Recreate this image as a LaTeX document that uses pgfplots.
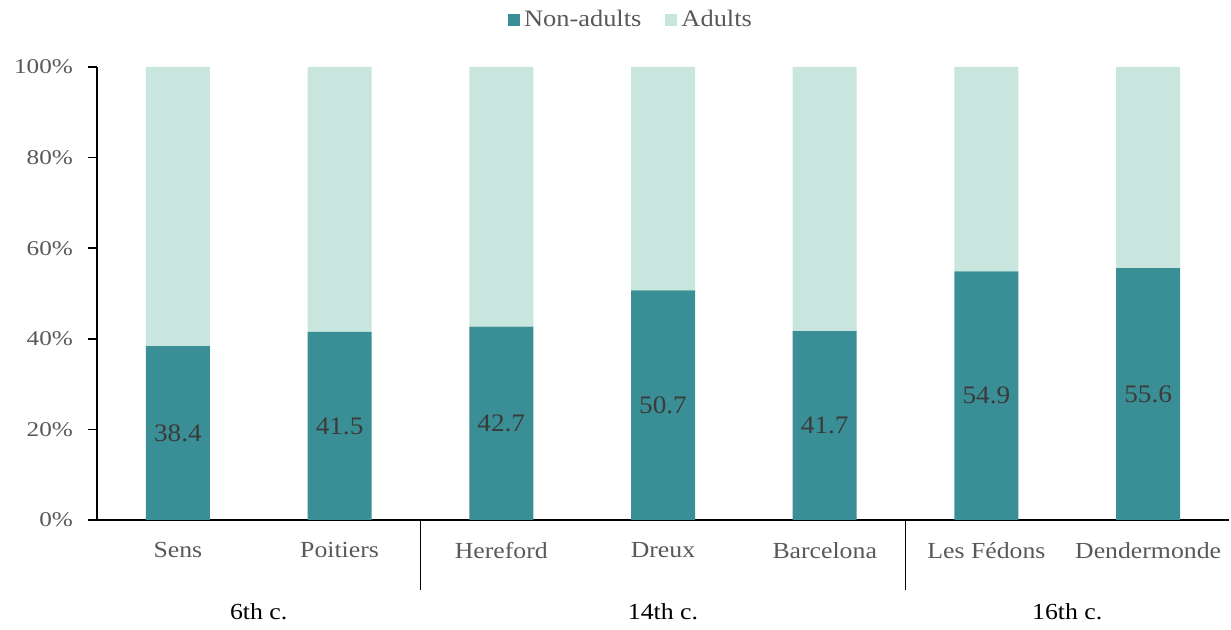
\documentclass[border=0pt]{standalone}
\usepackage{fontspec}
\setmainfont{Liberation Serif}[FakeStretch=1.12]
\newfontfamily\tickfont{Liberation Serif}[FakeStretch=1.2]
\newfontfamily\barfont{Liberation Serif}[FakeStretch=1.08]
\usepackage{pgfplots}
\pgfplotsset{compat=1.18}
\definecolor{dteal}{HTML}{3A8F96}
\definecolor{lteal}{HTML}{C8E6DE}
\definecolor{tgrey}{HTML}{595959}
\definecolor{bgrey}{HTML}{3A3A3A}
\begin{document}
\begin{tikzpicture}
\path[use as bounding box] (-48.5pt,-55pt) rectangle (567pt,260pt);
\begin{axis}[
  scale only axis,
  width=566pt, height=226.5pt,
  ybar stacked,
  bar width=32pt,
  xmin=-0.5, xmax=6.5,
  ymin=0, ymax=100,
  axis x line=bottom, axis y line=left,
  axis line style={black, line width=0.8pt, -},
  xtick={0,1,2,3,4,5,6},
  xticklabels={Sens,Poitiers,Hereford,Dreux,Barcelona,Les Fédons,Dendermonde},
  x tick style={draw=none},
  xticklabel style={font=\fontsize{11.5pt}{13pt}\selectfont, text=tgrey, yshift=-3pt},
  ytick={0,20,40,60,80,100},
  yticklabels={0\%,20\%,40\%,60\%,80\%,100\%},
  y tick style={black, line width=0.8pt},
  tick align=outside,
  major tick length=4.5pt,
  yticklabel style={font=\fontsize{10.5pt}{12pt}\tickfont, text=tgrey, xshift=-4pt},
  legend columns=2,
  legend style={at={(axis description cs:0.4726,1.104)}, anchor=center, draw=none, fill=none,
    font=\fontsize{11.8pt}{13pt}\selectfont, text=tgrey,
    /tikz/every even column/.append style={column sep=10pt}},
  legend image code/.code={\fill[#1] (0pt,-3pt) rectangle (6pt,3pt);},
  clip=false,
]
\addplot[fill=dteal, draw=none,
  point meta=rawy,
  nodes near coords={\pgfmathprintnumber[fixed,precision=1,fixed zerofill,assume math mode=true]{\pgfplotspointmeta}},
  every node near coord/.append style={anchor=center, font=\fontsize{12.6pt}{14pt}\barfont, text=bgrey}]
  coordinates {(0,38.4) (1,41.5) (2,42.7) (3,50.7) (4,41.7) (5,54.9) (6,55.6)};
\addlegendentry{Non-adults}
\addplot[fill=lteal, draw=none]
  coordinates {(0,61.6) (1,58.5) (2,57.3) (3,49.3) (4,58.3) (5,45.1) (6,44.4)};
\addlegendentry{Adults}
\draw[black, line width=0.6pt] (axis cs:1.5,0) -- ([yshift=-35pt]axis cs:1.5,0);
\draw[black, line width=0.6pt] (axis cs:4.5,0) -- ([yshift=-35pt]axis cs:4.5,0);
\node[font=\fontsize{11.5pt}{13pt}\selectfont, text=black] at ([yshift=-46pt]axis cs:0.5,0) {6th c.};
\node[font=\fontsize{11.5pt}{13pt}\selectfont, text=black] at ([yshift=-46pt]axis cs:3,0) {14th c.};
\node[font=\fontsize{11.5pt}{13pt}\selectfont, text=black] at ([yshift=-46pt]axis cs:5.5,0) {16th c.};
\end{axis}
\end{tikzpicture}
\end{document}
